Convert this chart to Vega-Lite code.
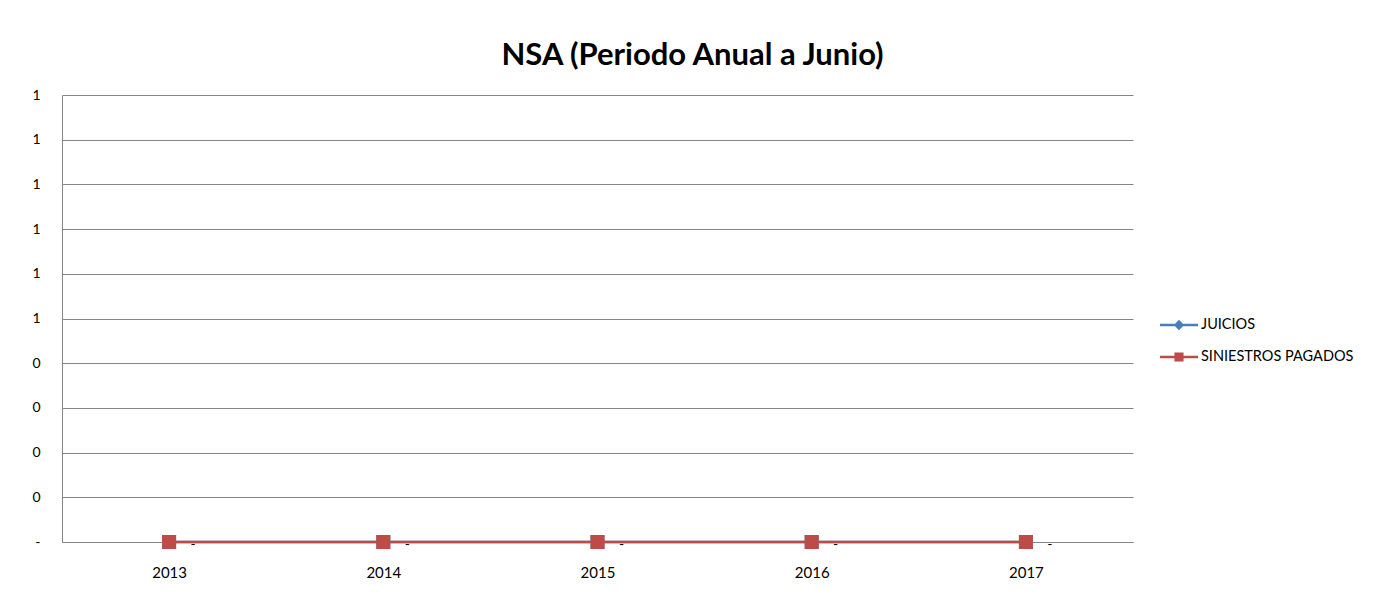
{
  "$schema": "https://vega.github.io/schema/vega-lite/v6.json",
  "width": 1071,
  "height": 447,
  "autosize": "none",
  "padding": {"left": 62, "top": 95, "right": 252, "bottom": 55},
  "background": "white",
  "title": {
    "text": "NSA (Periodo Anual a Junio)",
    "font": "Lato",
    "fontSize": 31,
    "fontWeight": "bold",
    "color": "#000000",
    "anchor": "middle",
    "dx": 95,
    "offset": 16
  },
  "config": {
    "view": {"stroke": null},
    "axis": {"labelFont": "Lato", "labelFontSize": 15, "labelColor": "#000000"}
  },
  "data": {
    "values": [
      {"year": "2013", "serie": "JUICIOS", "value": 0},
      {"year": "2014", "serie": "JUICIOS", "value": 0},
      {"year": "2015", "serie": "JUICIOS", "value": 0},
      {"year": "2016", "serie": "JUICIOS", "value": 0},
      {"year": "2017", "serie": "JUICIOS", "value": 0},
      {"year": "2013", "serie": "SINIESTROS  PAGADOS", "value": 0},
      {"year": "2014", "serie": "SINIESTROS  PAGADOS", "value": 0},
      {"year": "2015", "serie": "SINIESTROS  PAGADOS", "value": 0},
      {"year": "2016", "serie": "SINIESTROS  PAGADOS", "value": 0},
      {"year": "2017", "serie": "SINIESTROS  PAGADOS", "value": 0}
    ]
  },
  "encoding": {
    "x": {
      "field": "year",
      "type": "ordinal",
      "scale": {"type": "point", "padding": 0.5},
      "axis": {
        "title": null,
        "labelAngle": 0,
        "ticks": false,
        "grid": false,
        "domain": true,
        "domainColor": "#868686",
        "domainWidth": 1,
        "labelPadding": 23
      }
    },
    "y": {
      "field": "value",
      "type": "quantitative",
      "scale": {"domain": [0, 1], "nice": false},
      "axis": {
        "title": null,
        "values": [0, 0.1, 0.2, 0.3, 0.4, 0.5, 0.6, 0.7, 0.8, 0.9, 1],
        "labelExpr": "datum.value == 0 ? '-' : format(datum.value, '.0f')",
        "ticks": false,
        "grid": true,
        "gridColor": "#868686",
        "gridWidth": 1,
        "domain": true,
        "domainColor": "#868686",
        "labelPadding": 22,
        "labelAlign": "right",
        "labelFontSize": 14
      }
    }
  },
  "layer": [
    {
      "mark": {"type": "line", "strokeWidth": 2.5},
      "encoding": {
        "color": {
          "field": "serie",
          "type": "nominal",
          "scale": {"domain": ["JUICIOS", "SINIESTROS  PAGADOS"], "range": ["#4A7EBB", "#BE4B48"]}
        }
      }
    },
    {
      "mark": {"type": "point", "shape": "square", "filled": true, "size": 196, "opacity": 1},
      "encoding": {
        "color": {
          "field": "serie",
          "type": "nominal",
          "scale": {"domain": ["JUICIOS", "SINIESTROS  PAGADOS"], "range": ["#4A7EBB", "#BE4B48"]}
        }
      }
    },
    {
      "transform": [{"filter": "datum.serie == 'SINIESTROS  PAGADOS'"}],
      "mark": {"type": "text", "text": "-", "dx": 24, "dy": 3, "font": "Lato", "fontSize": 14, "color": "#000000"},
      "encoding": {}
    },
    {
      "transform": [{"filter": "false"}],
      "mark": {"type": "point", "filled": true, "opacity": 1},
      "encoding": {
        "color": {
          "field": "serie",
          "type": "nominal",
          "scale": {"domain": ["JUICIOS", "SINIESTROS  PAGADOS"], "range": ["#4A7EBB", "#BE4B48"]},
          "legend": {
            "orient": "none",
            "legendX": 1098,
            "legendY": 211,
            "title": null,
            "padding": 0,
            "symbolSize": 1444,
            "symbolStrokeWidth": 0,
            "symbolOpacity": 1,
            "labelFont": "Lato",
            "labelFontSize": 14.5,
            "labelColor": "#000000",
            "labelOffset": 3,
            "rowPadding": 6
          }
        },
        "shape": {
          "field": "serie",
          "type": "nominal",
          "scale": {
            "domain": ["JUICIOS", "SINIESTROS  PAGADOS"],
            "range": [
              "M-1,-0.06H1V0.06H-1Z M0,-0.27L0.27,0L0,0.27L-0.27,0Z",
              "M-1,-0.06H1V0.06H-1Z M-0.24,-0.24H0.24V0.24H-0.24Z"
            ]
          },
          "legend": {
            "orient": "none",
            "legendX": 1098,
            "legendY": 211,
            "title": null,
            "padding": 0,
            "symbolSize": 1444,
            "symbolStrokeWidth": 0,
            "symbolOpacity": 1,
            "labelFont": "Lato",
            "labelFontSize": 14.5,
            "labelColor": "#000000",
            "labelOffset": 3,
            "rowPadding": 6
          }
        }
      }
    }
  ]
}
